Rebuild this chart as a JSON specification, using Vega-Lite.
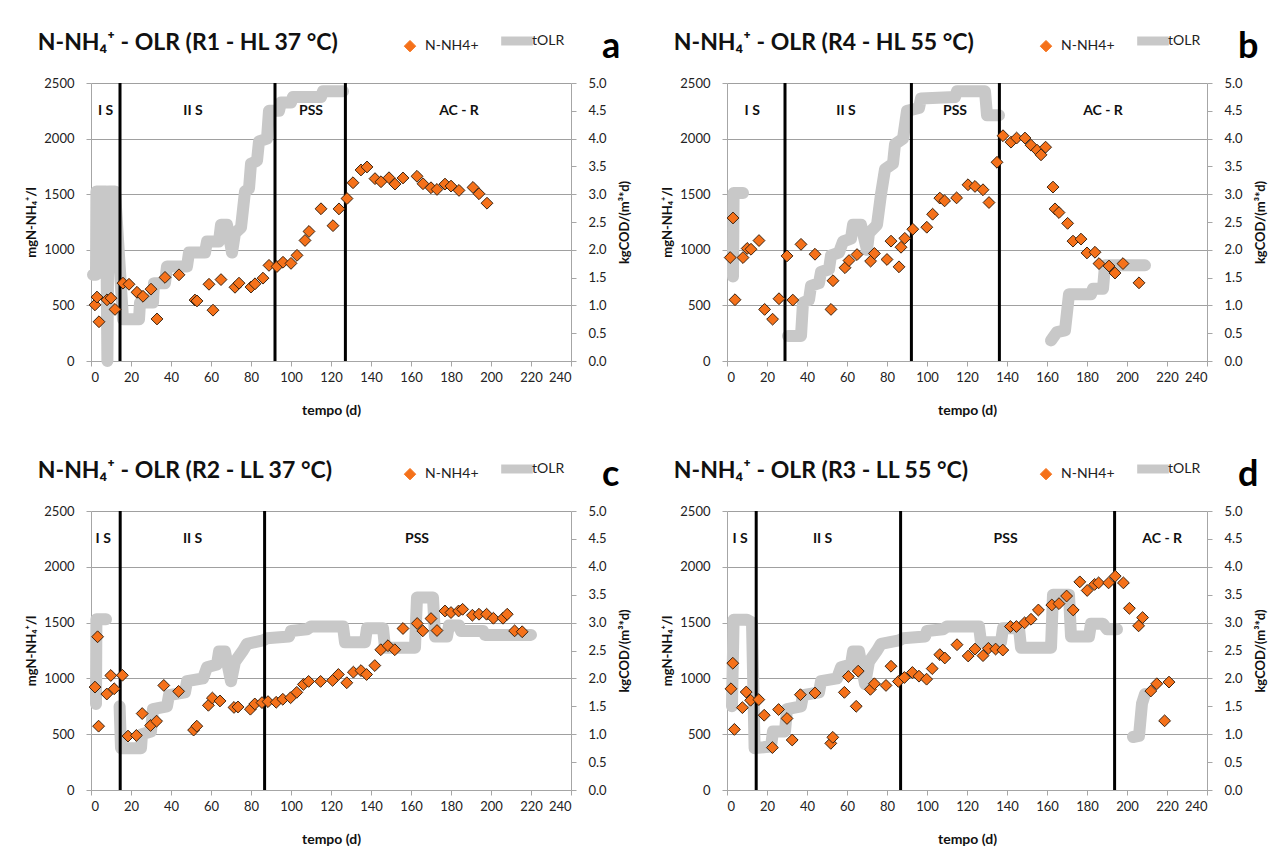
{
  "$schema": "https://vega.github.io/schema/vega-lite/v6.json",
  "background": "white",
  "padding": {"left": 25, "top": 32, "right": 5, "bottom": 5},
  "columns": 2,
  "spacing": {"row": 43, "column": 29},
  "resolve": {"scale": {"color": "independent"}, "legend": {"color": "independent"}},
  "datasets": {
    "pts": [
      {"p":"a","day":2,"nh4":505},{"p":"a","day":3,"nh4":575},{"p":"a","day":4,"nh4":353},{"p":"a","day":8,"nh4":550},{"p":"a","day":10,"nh4":565},{"p":"a","day":12,"nh4":464},{"p":"a","day":16,"nh4":700},{"p":"a","day":19,"nh4":690},{"p":"a","day":23,"nh4":618},{"p":"a","day":26,"nh4":582},{"p":"a","day":30,"nh4":646},{"p":"a","day":33,"nh4":378},{"p":"a","day":37,"nh4":752},{"p":"a","day":44,"nh4":775},{"p":"a","day":52,"nh4":548},{"p":"a","day":53,"nh4":540},{"p":"a","day":59,"nh4":690},{"p":"a","day":61,"nh4":457},{"p":"a","day":65,"nh4":732},{"p":"a","day":72,"nh4":663},{"p":"a","day":74,"nh4":700},{"p":"a","day":80,"nh4":665},{"p":"a","day":82,"nh4":694},{"p":"a","day":86,"nh4":745},{"p":"a","day":89,"nh4":860},{"p":"a","day":93,"nh4":850},{"p":"a","day":96,"nh4":888},{"p":"a","day":100,"nh4":878},{"p":"a","day":103,"nh4":950},{"p":"a","day":107,"nh4":1084},{"p":"a","day":109,"nh4":1165},{"p":"a","day":115,"nh4":1369},{"p":"a","day":121,"nh4":1217},{"p":"a","day":124,"nh4":1368},{"p":"a","day":128,"nh4":1461},{"p":"a","day":131,"nh4":1603},{"p":"a","day":135,"nh4":1718},{"p":"a","day":138,"nh4":1745},{"p":"a","day":142,"nh4":1640},{"p":"a","day":145,"nh4":1612},{"p":"a","day":149,"nh4":1648},{"p":"a","day":152,"nh4":1591},{"p":"a","day":156,"nh4":1646},{"p":"a","day":163,"nh4":1661},{"p":"a","day":166,"nh4":1594},{"p":"a","day":170,"nh4":1558},{"p":"a","day":173,"nh4":1543},{"p":"a","day":177,"nh4":1591},{"p":"a","day":180,"nh4":1573},{"p":"a","day":184,"nh4":1534},{"p":"a","day":191,"nh4":1561},{"p":"a","day":194,"nh4":1504},{"p":"a","day":198,"nh4":1419},
      {"p":"b","day":1.6,"nh4":930},{"p":"b","day":3,"nh4":1286},{"p":"b","day":4,"nh4":551},{"p":"b","day":8,"nh4":930},{"p":"b","day":10.1,"nh4":1012},{"p":"b","day":12,"nh4":1005},{"p":"b","day":16,"nh4":1083},{"p":"b","day":18.8,"nh4":464},{"p":"b","day":22.8,"nh4":376},{"p":"b","day":26,"nh4":560},{"p":"b","day":30,"nh4":945},{"p":"b","day":32.9,"nh4":548},{"p":"b","day":37,"nh4":1049},{"p":"b","day":44,"nh4":960},{"p":"b","day":52,"nh4":464},{"p":"b","day":53,"nh4":722},{"p":"b","day":59,"nh4":839},{"p":"b","day":61,"nh4":903},{"p":"b","day":65,"nh4":957},{"p":"b","day":71.8,"nh4":898},{"p":"b","day":73.7,"nh4":967},{"p":"b","day":80,"nh4":913},{"p":"b","day":82,"nh4":1078},{"p":"b","day":86,"nh4":847},{"p":"b","day":87,"nh4":1023},{"p":"b","day":88.9,"nh4":1103},{"p":"b","day":92.9,"nh4":1185},{"p":"b","day":99.9,"nh4":1203},{"p":"b","day":102.8,"nh4":1320},{"p":"b","day":106.4,"nh4":1465},{"p":"b","day":108.8,"nh4":1440},{"p":"b","day":114.8,"nh4":1467},{"p":"b","day":120.5,"nh4":1585},{"p":"b","day":124,"nh4":1570},{"p":"b","day":128,"nh4":1540},{"p":"b","day":131,"nh4":1425},{"p":"b","day":135,"nh4":1787},{"p":"b","day":138,"nh4":2026},{"p":"b","day":142,"nh4":1968},{"p":"b","day":144.8,"nh4":2005},{"p":"b","day":149,"nh4":2005},{"p":"b","day":152,"nh4":1941},{"p":"b","day":155,"nh4":1896},{"p":"b","day":157,"nh4":1854},{"p":"b","day":159.3,"nh4":1923},{"p":"b","day":163,"nh4":1564},{"p":"b","day":164,"nh4":1368},{"p":"b","day":166,"nh4":1335},{"p":"b","day":170.3,"nh4":1238},{"p":"b","day":173,"nh4":1078},{"p":"b","day":177,"nh4":1096},{"p":"b","day":180,"nh4":972},{"p":"b","day":184,"nh4":978},{"p":"b","day":186,"nh4":876},{"p":"b","day":191,"nh4":854},{"p":"b","day":194,"nh4":791},{"p":"b","day":198,"nh4":876},{"p":"b","day":206,"nh4":703},
      {"p":"c","day":2,"nh4":922},{"p":"c","day":3.3,"nh4":1373},{"p":"c","day":3.8,"nh4":572},{"p":"c","day":7.9,"nh4":860},{"p":"c","day":9.9,"nh4":1026},{"p":"c","day":11.6,"nh4":907},{"p":"c","day":15.7,"nh4":1028},{"p":"c","day":18.5,"nh4":483},{"p":"c","day":22.7,"nh4":489},{"p":"c","day":25.6,"nh4":685},{"p":"c","day":29.8,"nh4":578},{"p":"c","day":32.8,"nh4":617},{"p":"c","day":36.4,"nh4":937},{"p":"c","day":43.8,"nh4":884},{"p":"c","day":51.3,"nh4":537},{"p":"c","day":52.9,"nh4":572},{"p":"c","day":58.7,"nh4":759},{"p":"c","day":60.7,"nh4":824},{"p":"c","day":64.5,"nh4":798},{"p":"c","day":71.5,"nh4":740},{"p":"c","day":73.5,"nh4":744},{"p":"c","day":79.7,"nh4":724},{"p":"c","day":81.9,"nh4":771},{"p":"c","day":85.5,"nh4":783},{"p":"c","day":88.5,"nh4":792},{"p":"c","day":92.6,"nh4":786},{"p":"c","day":95.9,"nh4":813},{"p":"c","day":99.8,"nh4":827},{"p":"c","day":102.9,"nh4":875},{"p":"c","day":106.2,"nh4":946},{"p":"c","day":108.8,"nh4":973},{"p":"c","day":114.8,"nh4":973},{"p":"c","day":120.8,"nh4":982},{"p":"c","day":123.7,"nh4":1035},{"p":"c","day":127.9,"nh4":961},{"p":"c","day":131.2,"nh4":1056},{"p":"c","day":135,"nh4":1070},{"p":"c","day":137.8,"nh4":1035},{"p":"c","day":141.9,"nh4":1115},{"p":"c","day":144.9,"nh4":1257},{"p":"c","day":148.5,"nh4":1293},{"p":"c","day":151.9,"nh4":1257},{"p":"c","day":156,"nh4":1447},{"p":"c","day":163.1,"nh4":1492},{"p":"c","day":165.9,"nh4":1426},{"p":"c","day":170,"nh4":1536},{"p":"c","day":173,"nh4":1429},{"p":"c","day":177,"nh4":1604},{"p":"c","day":180,"nh4":1590},{"p":"c","day":183.8,"nh4":1604},{"p":"c","day":185.8,"nh4":1619},{"p":"c","day":190.7,"nh4":1566},{"p":"c","day":194,"nh4":1575},{"p":"c","day":197.8,"nh4":1575},{"p":"c","day":201.2,"nh4":1539},{"p":"c","day":206,"nh4":1539},{"p":"c","day":208.1,"nh4":1575},{"p":"c","day":211.8,"nh4":1426},{"p":"c","day":215.6,"nh4":1418},
      {"p":"d","day":2,"nh4":907},{"p":"d","day":2.9,"nh4":1136},{"p":"d","day":3.7,"nh4":543},{"p":"d","day":7.7,"nh4":738},{"p":"d","day":9.6,"nh4":878},{"p":"d","day":11.8,"nh4":804},{"p":"d","day":15.9,"nh4":810},{"p":"d","day":18.6,"nh4":670},{"p":"d","day":22.7,"nh4":380},{"p":"d","day":25.8,"nh4":721},{"p":"d","day":30,"nh4":641},{"p":"d","day":32.6,"nh4":448},{"p":"d","day":36.7,"nh4":854},{"p":"d","day":44,"nh4":869},{"p":"d","day":51.9,"nh4":418},{"p":"d","day":52.9,"nh4":472},{"p":"d","day":58.7,"nh4":875},{"p":"d","day":60.7,"nh4":1017},{"p":"d","day":64.6,"nh4":750},{"p":"d","day":65.6,"nh4":1065},{"p":"d","day":71.7,"nh4":902},{"p":"d","day":73.7,"nh4":952},{"p":"d","day":79.5,"nh4":937},{"p":"d","day":82,"nh4":1109},{"p":"d","day":85.7,"nh4":973},{"p":"d","day":88.7,"nh4":1008},{"p":"d","day":92.7,"nh4":1053},{"p":"d","day":96,"nh4":1020},{"p":"d","day":99.8,"nh4":993},{"p":"d","day":102.6,"nh4":1088},{"p":"d","day":106.4,"nh4":1213},{"p":"d","day":108.9,"nh4":1183},{"p":"d","day":115,"nh4":1302},{"p":"d","day":120.6,"nh4":1201},{"p":"d","day":124,"nh4":1263},{"p":"d","day":128,"nh4":1204},{"p":"d","day":130.7,"nh4":1269},{"p":"d","day":134.3,"nh4":1263},{"p":"d","day":137.9,"nh4":1254},{"p":"d","day":141.7,"nh4":1465},{"p":"d","day":144.7,"nh4":1465},{"p":"d","day":148.8,"nh4":1498},{"p":"d","day":152,"nh4":1530},{"p":"d","day":155.7,"nh4":1613},{"p":"d","day":162.4,"nh4":1658},{"p":"d","day":166,"nh4":1670},{"p":"d","day":169.8,"nh4":1738},{"p":"d","day":173.1,"nh4":1613},{"p":"d","day":176.4,"nh4":1865},{"p":"d","day":180.1,"nh4":1788},{"p":"d","day":183.8,"nh4":1842},{"p":"d","day":185.8,"nh4":1856},{"p":"d","day":190.8,"nh4":1856},{"p":"d","day":194.1,"nh4":1916},{"p":"d","day":198.2,"nh4":1856},{"p":"d","day":201.2,"nh4":1628},{"p":"d","day":205.8,"nh4":1471},{"p":"d","day":207.8,"nh4":1545},{"p":"d","day":211.9,"nh4":887},{"p":"d","day":214.9,"nh4":952},{"p":"d","day":218.8,"nh4":620},{"p":"d","day":221,"nh4":967}
    ],
    "olr": [
      {"p":"a","seg":1,"i":0,"day":1,"olr":1.55},{"p":"a","seg":1,"i":1,"day":2.5,"olr":1.55},{"p":"a","seg":1,"i":2,"day":2.7,"olr":3.05},{"p":"a","seg":1,"i":3,"day":7.5,"olr":3.05},{"p":"a","seg":1,"i":4,"day":8.2,"olr":0},{"p":"a","seg":1,"i":5,"day":8.8,"olr":3.05},{"p":"a","seg":1,"i":6,"day":12,"olr":3.05},{"p":"a","seg":1,"i":7,"day":16,"olr":0.75},{"p":"a","seg":1,"i":8,"day":24,"olr":0.75},{"p":"a","seg":1,"i":9,"day":24.5,"olr":1.05},{"p":"a","seg":1,"i":10,"day":31,"olr":1.05},{"p":"a","seg":1,"i":11,"day":31.5,"olr":1.4},{"p":"a","seg":1,"i":12,"day":37,"olr":1.4},{"p":"a","seg":1,"i":13,"day":38,"olr":1.7},{"p":"a","seg":1,"i":14,"day":48,"olr":1.7},{"p":"a","seg":1,"i":15,"day":49,"olr":1.95},{"p":"a","seg":1,"i":16,"day":57,"olr":1.95},{"p":"a","seg":1,"i":17,"day":58,"olr":2.15},{"p":"a","seg":1,"i":18,"day":64,"olr":2.15},{"p":"a","seg":1,"i":19,"day":65,"olr":2.45},{"p":"a","seg":1,"i":20,"day":68,"olr":2.45},{"p":"a","seg":1,"i":21,"day":70.5,"olr":1.95},{"p":"a","seg":1,"i":22,"day":72,"olr":2.3},{"p":"a","seg":1,"i":23,"day":75,"olr":2.4},{"p":"a","seg":1,"i":24,"day":77,"olr":3.05},{"p":"a","seg":1,"i":25,"day":79,"olr":3.1},{"p":"a","seg":1,"i":26,"day":80,"olr":3.55},{"p":"a","seg":1,"i":27,"day":83,"olr":3.6},{"p":"a","seg":1,"i":28,"day":84,"olr":3.95},{"p":"a","seg":1,"i":29,"day":88,"olr":4.0},{"p":"a","seg":1,"i":30,"day":89,"olr":4.5},{"p":"a","seg":1,"i":31,"day":94,"olr":4.5},{"p":"a","seg":1,"i":32,"day":95,"olr":4.65},{"p":"a","seg":1,"i":33,"day":100,"olr":4.65},{"p":"a","seg":1,"i":34,"day":101,"olr":4.75},{"p":"a","seg":1,"i":35,"day":115,"olr":4.75},{"p":"a","seg":1,"i":36,"day":116,"olr":4.85},{"p":"a","seg":1,"i":37,"day":126,"olr":4.85},
      {"p":"b","seg":1,"i":0,"day":3,"olr":1.52},{"p":"b","seg":1,"i":1,"day":3.3,"olr":3.02},{"p":"b","seg":1,"i":2,"day":8,"olr":3.02},
      {"p":"b","seg":2,"i":0,"day":30.5,"olr":0.45},{"p":"b","seg":2,"i":1,"day":37,"olr":0.45},{"p":"b","seg":2,"i":2,"day":38,"olr":1.05},{"p":"b","seg":2,"i":3,"day":41,"olr":1.1},{"p":"b","seg":2,"i":4,"day":42,"olr":1.35},{"p":"b","seg":2,"i":5,"day":46,"olr":1.4},{"p":"b","seg":2,"i":6,"day":47,"olr":1.6},{"p":"b","seg":2,"i":7,"day":51,"olr":1.65},{"p":"b","seg":2,"i":8,"day":52,"olr":1.9},{"p":"b","seg":2,"i":9,"day":56,"olr":1.95},{"p":"b","seg":2,"i":10,"day":58,"olr":2.15},{"p":"b","seg":2,"i":11,"day":62,"olr":2.2},{"p":"b","seg":2,"i":12,"day":63,"olr":2.45},{"p":"b","seg":2,"i":13,"day":67,"olr":2.45},{"p":"b","seg":2,"i":14,"day":70,"olr":2.0},{"p":"b","seg":2,"i":15,"day":71,"olr":2.3},{"p":"b","seg":2,"i":16,"day":75,"olr":2.45},{"p":"b","seg":2,"i":17,"day":77,"olr":3.0},{"p":"b","seg":2,"i":18,"day":79,"olr":3.45},{"p":"b","seg":2,"i":19,"day":83,"olr":3.55},{"p":"b","seg":2,"i":20,"day":84,"olr":3.9},{"p":"b","seg":2,"i":21,"day":88,"olr":4.0},{"p":"b","seg":2,"i":22,"day":90,"olr":4.5},{"p":"b","seg":2,"i":23,"day":96,"olr":4.55},{"p":"b","seg":2,"i":24,"day":97,"olr":4.72},{"p":"b","seg":2,"i":25,"day":114,"olr":4.75},{"p":"b","seg":2,"i":26,"day":115,"olr":4.85},{"p":"b","seg":2,"i":27,"day":129,"olr":4.85},{"p":"b","seg":2,"i":28,"day":130,"olr":4.42},{"p":"b","seg":2,"i":29,"day":136,"olr":4.42},
      {"p":"b","seg":3,"i":0,"day":162,"olr":0.37},{"p":"b","seg":3,"i":1,"day":165,"olr":0.52},{"p":"b","seg":3,"i":2,"day":169,"olr":0.55},{"p":"b","seg":3,"i":3,"day":171,"olr":1.2},{"p":"b","seg":3,"i":4,"day":182,"olr":1.2},{"p":"b","seg":3,"i":5,"day":183,"olr":1.3},{"p":"b","seg":3,"i":6,"day":188,"olr":1.3},{"p":"b","seg":3,"i":7,"day":189,"olr":1.72},{"p":"b","seg":3,"i":8,"day":209,"olr":1.72},
      {"p":"c","seg":1,"i":0,"day":2.5,"olr":1.54},{"p":"c","seg":1,"i":1,"day":2.7,"olr":3.06},{"p":"c","seg":1,"i":2,"day":7.5,"olr":3.06},
      {"p":"c","seg":2,"i":0,"day":14.3,"olr":1.5},{"p":"c","seg":2,"i":1,"day":15,"olr":0.75},{"p":"c","seg":2,"i":2,"day":25,"olr":0.75},{"p":"c","seg":2,"i":3,"day":25.5,"olr":1.0},{"p":"c","seg":2,"i":4,"day":30,"olr":1.05},{"p":"c","seg":2,"i":5,"day":31,"olr":1.45},{"p":"c","seg":2,"i":6,"day":38,"olr":1.5},{"p":"c","seg":2,"i":7,"day":39,"olr":1.7},{"p":"c","seg":2,"i":8,"day":47,"olr":1.75},{"p":"c","seg":2,"i":9,"day":48,"olr":1.95},{"p":"c","seg":2,"i":10,"day":56,"olr":2.0},{"p":"c","seg":2,"i":11,"day":58,"olr":2.2},{"p":"c","seg":2,"i":12,"day":63,"olr":2.25},{"p":"c","seg":2,"i":13,"day":64,"olr":2.48},{"p":"c","seg":2,"i":14,"day":67,"olr":2.48},{"p":"c","seg":2,"i":15,"day":70,"olr":1.95},{"p":"c","seg":2,"i":16,"day":72,"olr":2.3},{"p":"c","seg":2,"i":17,"day":76,"olr":2.5},{"p":"c","seg":2,"i":18,"day":78,"olr":2.62},{"p":"c","seg":2,"i":19,"day":86,"olr":2.68},{"p":"c","seg":2,"i":20,"day":88,"olr":2.72},{"p":"c","seg":2,"i":21,"day":99,"olr":2.75},{"p":"c","seg":2,"i":22,"day":100,"olr":2.85},{"p":"c","seg":2,"i":23,"day":108,"olr":2.88},{"p":"c","seg":2,"i":24,"day":110,"olr":2.93},{"p":"c","seg":2,"i":25,"day":126,"olr":2.93},{"p":"c","seg":2,"i":26,"day":127,"olr":2.65},{"p":"c","seg":2,"i":27,"day":137,"olr":2.65},{"p":"c","seg":2,"i":28,"day":138,"olr":2.9},{"p":"c","seg":2,"i":29,"day":146,"olr":2.9},{"p":"c","seg":2,"i":30,"day":147,"olr":2.55},{"p":"c","seg":2,"i":31,"day":162,"olr":2.55},{"p":"c","seg":2,"i":32,"day":163,"olr":3.45},{"p":"c","seg":2,"i":33,"day":171,"olr":3.45},{"p":"c","seg":2,"i":34,"day":172,"olr":2.75},{"p":"c","seg":2,"i":35,"day":178,"olr":2.75},{"p":"c","seg":2,"i":36,"day":179,"olr":2.95},{"p":"c","seg":2,"i":37,"day":184,"olr":2.95},{"p":"c","seg":2,"i":38,"day":185,"olr":2.85},{"p":"c","seg":2,"i":39,"day":196,"olr":2.85},{"p":"c","seg":2,"i":40,"day":197,"olr":2.78},{"p":"c","seg":2,"i":41,"day":220,"olr":2.78},
      {"p":"d","seg":1,"i":0,"day":2.5,"olr":1.5},{"p":"d","seg":1,"i":1,"day":3.3,"olr":3.05},{"p":"d","seg":1,"i":2,"day":10,"olr":3.05},{"p":"d","seg":1,"i":3,"day":12.5,"olr":3.0},{"p":"d","seg":1,"i":4,"day":13.8,"olr":0.75},{"p":"d","seg":1,"i":5,"day":22,"olr":0.78},{"p":"d","seg":1,"i":6,"day":23,"olr":1.05},{"p":"d","seg":1,"i":7,"day":29,"olr":1.05},{"p":"d","seg":1,"i":8,"day":30,"olr":1.45},{"p":"d","seg":1,"i":9,"day":37,"olr":1.5},{"p":"d","seg":1,"i":10,"day":38,"olr":1.7},{"p":"d","seg":1,"i":11,"day":46,"olr":1.75},{"p":"d","seg":1,"i":12,"day":47,"olr":1.95},{"p":"d","seg":1,"i":13,"day":55,"olr":2.0},{"p":"d","seg":1,"i":14,"day":57,"olr":2.2},{"p":"d","seg":1,"i":15,"day":62,"olr":2.25},{"p":"d","seg":1,"i":16,"day":63,"olr":2.48},{"p":"d","seg":1,"i":17,"day":66,"olr":2.48},{"p":"d","seg":1,"i":18,"day":69,"olr":1.9},{"p":"d","seg":1,"i":19,"day":71,"olr":2.3},{"p":"d","seg":1,"i":20,"day":75,"olr":2.5},{"p":"d","seg":1,"i":21,"day":77,"olr":2.62},{"p":"d","seg":1,"i":22,"day":86,"olr":2.68},{"p":"d","seg":1,"i":23,"day":88,"olr":2.72},{"p":"d","seg":1,"i":24,"day":99,"olr":2.75},{"p":"d","seg":1,"i":25,"day":100,"olr":2.85},{"p":"d","seg":1,"i":26,"day":108,"olr":2.88},{"p":"d","seg":1,"i":27,"day":110,"olr":2.93},{"p":"d","seg":1,"i":28,"day":126,"olr":2.93},{"p":"d","seg":1,"i":29,"day":127,"olr":2.65},{"p":"d","seg":1,"i":30,"day":137,"olr":2.65},{"p":"d","seg":1,"i":31,"day":138,"olr":2.9},{"p":"d","seg":1,"i":32,"day":146,"olr":2.9},{"p":"d","seg":1,"i":33,"day":147,"olr":2.55},{"p":"d","seg":1,"i":34,"day":162,"olr":2.55},{"p":"d","seg":1,"i":35,"day":163,"olr":3.5},{"p":"d","seg":1,"i":36,"day":171,"olr":3.5},{"p":"d","seg":1,"i":37,"day":172,"olr":2.75},{"p":"d","seg":1,"i":38,"day":181,"olr":2.75},{"p":"d","seg":1,"i":39,"day":182,"olr":2.98},{"p":"d","seg":1,"i":40,"day":188,"olr":2.98},{"p":"d","seg":1,"i":41,"day":190,"olr":2.88},{"p":"d","seg":1,"i":42,"day":195,"olr":2.88},
      {"p":"d","seg":2,"i":0,"day":203,"olr":0.95},{"p":"d","seg":2,"i":1,"day":206,"olr":0.97},{"p":"d","seg":2,"i":2,"day":207.5,"olr":1.55},{"p":"d","seg":2,"i":3,"day":209,"olr":1.72}
    ],
    "div": [
      {"p":"a","day":14.5},{"p":"a","day":92},{"p":"a","day":127.2},
      {"p":"b","day":29},{"p":"b","day":92.2},{"p":"b","day":136.2},
      {"p":"c","day":14.6},{"p":"c","day":86.8},
      {"p":"d","day":14.6},{"p":"d","day":86.8},{"p":"d","day":193.8}
    ],
    "lab": [
      {"p":"a","day":7.3,"phase":"I S"},{"p":"a","day":51,"phase":"II S"},{"p":"a","day":110,"phase":"PSS"},{"p":"a","day":184,"phase":"AC - R"},
      {"p":"b","day":12.6,"phase":"I S"},{"p":"b","day":59.5,"phase":"II S"},{"p":"b","day":114,"phase":"PSS"},{"p":"b","day":188,"phase":"AC - R"},
      {"p":"c","day":6.1,"phase":"I S"},{"p":"c","day":50.8,"phase":"II S"},{"p":"c","day":163,"phase":"PSS"},
      {"p":"d","day":6.5,"phase":"I S"},{"p":"d","day":47.8,"phase":"II S"},{"p":"d","day":139.3,"phase":"PSS"},{"p":"d","day":217.6,"phase":"AC - R"}
    ]
  },
  "concat": [
    {
      "width": 480, "height": 278,
      "title": {"text": "N-NH₄⁺ - OLR (R1 - HL 37 °C)"},
      "encoding": {"x": {"field": "day", "type": "quantitative", "scale": {"domain": [0, 240], "nice": false}, "axis": {"title": "tempo (d)", "values": [0,20,40,60,80,100,120,140,160,180,200,220,240], "grid": false, "labelOverlap": false}}},
      "layer": [
        {
          "data": {"name": "olr"},
          "transform": [{"filter": "datum.p == 'a'"}],
          "mark": {"type": "line", "strokeWidth": 12, "strokeCap": "round", "strokeJoin": "round"},
          "encoding": {
            "y": {"field": "olr", "type": "quantitative", "scale": {"domain": [0, 5], "nice": false}, "axis": {"orient": "right", "title": "kgCOD/(m³*d)", "titleAngle": 270, "titleBaseline": "top", "titlePadding": 12, "values": [0,0.5,1,1.5,2,2.5,3,3.5,4,4.5,5], "format": ".1f", "grid": false, "labelOverlap": false}},
            "detail": {"field": "seg"},
            "order": {"field": "i", "type": "quantitative"},
            "color": {"datum": "tOLR", "scale": {"domain": ["N-NH4+", "tOLR"], "range": ["#f5711a", "#c8c8c8"]},
              "legend": {"orient": "none", "legendX": 312, "legendY": -49, "direction": "horizontal", "title": "a", "titleOrient": "right",
                "encode": {"symbols": {"update": {"shape": {"signal": "datum.value === 'tOLR' ? 'stroke' : 'diamond'"}, "size": {"signal": "datum.value === 'tOLR' ? 1000 : 130"}, "strokeWidth": {"signal": "datum.value === 'tOLR' ? 9 : 1"}, "stroke": {"signal": "datum.value === 'tOLR' ? '#c8c8c8' : '#3a2310'"}, "fill": {"signal": "datum.value === 'tOLR' ? 'transparent' : '#f5711a'"}, "opacity": {"value": 1}}}}}}
          }
        },
        {
          "layer": [
            {"data": {"name": "div"}, "transform": [{"filter": "datum.p == 'a'"}], "mark": {"type": "rule", "strokeWidth": 3, "color": "#000"}, "encoding": {}},
            {"data": {"name": "lab"}, "transform": [{"filter": "datum.p == 'a'"}], "mark": {"type": "text", "fontWeight": "bold", "fontSize": 14, "font": "Lato", "color": "#111"}, "encoding": {"y": {"datum": 2250, "type": "quantitative"}, "text": {"field": "phase"}}},
            {"data": {"name": "pts"}, "transform": [{"filter": "datum.p == 'a'"}], "mark": {"type": "point", "shape": "diamond", "filled": true, "size": 140, "stroke": "#3a2310", "strokeWidth": 1, "opacity": 1},
              "encoding": {"y": {"field": "nh4", "type": "quantitative", "scale": {"domain": [0, 2500], "nice": false}, "axis": {"orient": "left", "title": "mgN-NH₄⁺/l", "values": [0,500,1000,1500,2000,2500], "format": "d", "grid": true}}, "color": {"datum": "N-NH4+"}}}
          ]
        }
      ],
      "resolve": {"scale": {"y": "independent"}}
    },
    {
      "width": 480, "height": 278,
      "title": {"text": "N-NH₄⁺ - OLR (R4 - HL 55 °C)"},
      "encoding": {"x": {"field": "day", "type": "quantitative", "scale": {"domain": [0, 240], "nice": false}, "axis": {"title": "tempo (d)", "values": [0,20,40,60,80,100,120,140,160,180,200,220,240], "grid": false, "labelOverlap": false}}},
      "layer": [
        {
          "data": {"name": "olr"},
          "transform": [{"filter": "datum.p == 'b'"}],
          "mark": {"type": "line", "strokeWidth": 12, "strokeCap": "round", "strokeJoin": "round"},
          "encoding": {
            "y": {"field": "olr", "type": "quantitative", "scale": {"domain": [0, 5], "nice": false}, "axis": {"orient": "right", "title": "kgCOD/(m³*d)", "titleAngle": 270, "titleBaseline": "top", "titlePadding": 12, "values": [0,0.5,1,1.5,2,2.5,3,3.5,4,4.5,5], "format": ".1f", "grid": false, "labelOverlap": false}},
            "detail": {"field": "seg"},
            "order": {"field": "i", "type": "quantitative"},
            "color": {"datum": "tOLR", "scale": {"domain": ["N-NH4+", "tOLR"], "range": ["#f5711a", "#c8c8c8"]},
              "legend": {"orient": "none", "legendX": 312, "legendY": -49, "direction": "horizontal", "title": "b", "titleOrient": "right",
                "encode": {"symbols": {"update": {"shape": {"signal": "datum.value === 'tOLR' ? 'stroke' : 'diamond'"}, "size": {"signal": "datum.value === 'tOLR' ? 1000 : 130"}, "strokeWidth": {"signal": "datum.value === 'tOLR' ? 9 : 1"}, "stroke": {"signal": "datum.value === 'tOLR' ? '#c8c8c8' : '#3a2310'"}, "fill": {"signal": "datum.value === 'tOLR' ? 'transparent' : '#f5711a'"}, "opacity": {"value": 1}}}}}}
          }
        },
        {
          "layer": [
            {"data": {"name": "div"}, "transform": [{"filter": "datum.p == 'b'"}], "mark": {"type": "rule", "strokeWidth": 3, "color": "#000"}, "encoding": {}},
            {"data": {"name": "lab"}, "transform": [{"filter": "datum.p == 'b'"}], "mark": {"type": "text", "fontWeight": "bold", "fontSize": 14, "font": "Lato", "color": "#111"}, "encoding": {"y": {"datum": 2250, "type": "quantitative"}, "text": {"field": "phase"}}},
            {"data": {"name": "pts"}, "transform": [{"filter": "datum.p == 'b'"}], "mark": {"type": "point", "shape": "diamond", "filled": true, "size": 140, "stroke": "#3a2310", "strokeWidth": 1, "opacity": 1},
              "encoding": {"y": {"field": "nh4", "type": "quantitative", "scale": {"domain": [0, 2500], "nice": false}, "axis": {"orient": "left", "title": "mgN-NH₄⁺/l", "values": [0,500,1000,1500,2000,2500], "format": "d", "grid": true}}, "color": {"datum": "N-NH4+"}}}
          ]
        }
      ],
      "resolve": {"scale": {"y": "independent"}}
    },
    {
      "width": 480, "height": 279,
      "title": {"text": "N-NH₄⁺ - OLR (R2 - LL 37 °C)"},
      "encoding": {"x": {"field": "day", "type": "quantitative", "scale": {"domain": [0, 240], "nice": false}, "axis": {"title": "tempo (d)", "values": [0,20,40,60,80,100,120,140,160,180,200,220,240], "grid": false, "labelOverlap": false}}},
      "layer": [
        {
          "data": {"name": "olr"},
          "transform": [{"filter": "datum.p == 'c'"}],
          "mark": {"type": "line", "strokeWidth": 12, "strokeCap": "round", "strokeJoin": "round"},
          "encoding": {
            "y": {"field": "olr", "type": "quantitative", "scale": {"domain": [0, 5], "nice": false}, "axis": {"orient": "right", "title": "kgCOD/(m³*d)", "titleAngle": 270, "titleBaseline": "top", "titlePadding": 12, "values": [0,0.5,1,1.5,2,2.5,3,3.5,4,4.5,5], "format": ".1f", "grid": false, "labelOverlap": false}},
            "detail": {"field": "seg"},
            "order": {"field": "i", "type": "quantitative"},
            "color": {"datum": "tOLR", "scale": {"domain": ["N-NH4+", "tOLR"], "range": ["#f5711a", "#c8c8c8"]},
              "legend": {"orient": "none", "legendX": 312, "legendY": -49, "direction": "horizontal", "title": "c", "titleOrient": "right",
                "encode": {"symbols": {"update": {"shape": {"signal": "datum.value === 'tOLR' ? 'stroke' : 'diamond'"}, "size": {"signal": "datum.value === 'tOLR' ? 1000 : 130"}, "strokeWidth": {"signal": "datum.value === 'tOLR' ? 9 : 1"}, "stroke": {"signal": "datum.value === 'tOLR' ? '#c8c8c8' : '#3a2310'"}, "fill": {"signal": "datum.value === 'tOLR' ? 'transparent' : '#f5711a'"}, "opacity": {"value": 1}}}}}}
          }
        },
        {
          "layer": [
            {"data": {"name": "div"}, "transform": [{"filter": "datum.p == 'c'"}], "mark": {"type": "rule", "strokeWidth": 3, "color": "#000"}, "encoding": {}},
            {"data": {"name": "lab"}, "transform": [{"filter": "datum.p == 'c'"}], "mark": {"type": "text", "fontWeight": "bold", "fontSize": 14, "font": "Lato", "color": "#111"}, "encoding": {"y": {"datum": 2250, "type": "quantitative"}, "text": {"field": "phase"}}},
            {"data": {"name": "pts"}, "transform": [{"filter": "datum.p == 'c'"}], "mark": {"type": "point", "shape": "diamond", "filled": true, "size": 140, "stroke": "#3a2310", "strokeWidth": 1, "opacity": 1},
              "encoding": {"y": {"field": "nh4", "type": "quantitative", "scale": {"domain": [0, 2500], "nice": false}, "axis": {"orient": "left", "title": "mgN-NH₄⁺/l", "values": [0,500,1000,1500,2000,2500], "format": "d", "grid": true}}, "color": {"datum": "N-NH4+"}}}
          ]
        }
      ],
      "resolve": {"scale": {"y": "independent"}}
    },
    {
      "width": 480, "height": 279,
      "title": {"text": "N-NH₄⁺ - OLR (R3 - LL 55 °C)"},
      "encoding": {"x": {"field": "day", "type": "quantitative", "scale": {"domain": [0, 240], "nice": false}, "axis": {"title": "tempo (d)", "values": [0,20,40,60,80,100,120,140,160,180,200,220,240], "grid": false, "labelOverlap": false}}},
      "layer": [
        {
          "data": {"name": "olr"},
          "transform": [{"filter": "datum.p == 'd'"}],
          "mark": {"type": "line", "strokeWidth": 12, "strokeCap": "round", "strokeJoin": "round"},
          "encoding": {
            "y": {"field": "olr", "type": "quantitative", "scale": {"domain": [0, 5], "nice": false}, "axis": {"orient": "right", "title": "kgCOD/(m³*d)", "titleAngle": 270, "titleBaseline": "top", "titlePadding": 12, "values": [0,0.5,1,1.5,2,2.5,3,3.5,4,4.5,5], "format": ".1f", "grid": false, "labelOverlap": false}},
            "detail": {"field": "seg"},
            "order": {"field": "i", "type": "quantitative"},
            "color": {"datum": "tOLR", "scale": {"domain": ["N-NH4+", "tOLR"], "range": ["#f5711a", "#c8c8c8"]},
              "legend": {"orient": "none", "legendX": 312, "legendY": -49, "direction": "horizontal", "title": "d", "titleOrient": "right",
                "encode": {"symbols": {"update": {"shape": {"signal": "datum.value === 'tOLR' ? 'stroke' : 'diamond'"}, "size": {"signal": "datum.value === 'tOLR' ? 1000 : 130"}, "strokeWidth": {"signal": "datum.value === 'tOLR' ? 9 : 1"}, "stroke": {"signal": "datum.value === 'tOLR' ? '#c8c8c8' : '#3a2310'"}, "fill": {"signal": "datum.value === 'tOLR' ? 'transparent' : '#f5711a'"}, "opacity": {"value": 1}}}}}}
          }
        },
        {
          "layer": [
            {"data": {"name": "div"}, "transform": [{"filter": "datum.p == 'd'"}], "mark": {"type": "rule", "strokeWidth": 3, "color": "#000"}, "encoding": {}},
            {"data": {"name": "lab"}, "transform": [{"filter": "datum.p == 'd'"}], "mark": {"type": "text", "fontWeight": "bold", "fontSize": 14, "font": "Lato", "color": "#111"}, "encoding": {"y": {"datum": 2250, "type": "quantitative"}, "text": {"field": "phase"}}},
            {"data": {"name": "pts"}, "transform": [{"filter": "datum.p == 'd'"}], "mark": {"type": "point", "shape": "diamond", "filled": true, "size": 140, "stroke": "#3a2310", "strokeWidth": 1, "opacity": 1},
              "encoding": {"y": {"field": "nh4", "type": "quantitative", "scale": {"domain": [0, 2500], "nice": false}, "axis": {"orient": "left", "title": "mgN-NH₄⁺/l", "values": [0,500,1000,1500,2000,2500], "format": "d", "grid": true}}, "color": {"datum": "N-NH4+"}}}
          ]
        }
      ],
      "resolve": {"scale": {"y": "independent"}}
    }
  ],
  "config": {
    "view": {"stroke": null},
    "font": "Lato",
    "title": {"font": "Lato", "fontSize": 23, "fontWeight": "bold", "anchor": "start", "color": "#111", "dx": 12, "offset": -21},
    "axis": {"labelFont": "Lato", "labelFontSize": 13, "labelColor": "#222", "titleFont": "Lato", "titleFontSize": 13, "titleFontWeight": "bold", "titleColor": "#111", "domainColor": "#a6a6a6", "tickColor": "#a6a6a6", "gridColor": "#a0a0a0", "tickSize": 5, "labelPadding": 12, "titlePadding": 5, "labelOverlap": false},
    "axisX": {"labelPadding": 5, "titlePadding": 19, "titleFontSize": 14, "labelOverlap": false},
    "legend": {"labelFont": "Lato", "labelFontSize": 14, "labelColor": "#222", "titleFont": "Lato", "titleFontSize": 36, "titleFontWeight": "bold", "titleColor": "#000", "titlePadding": 38, "columnPadding": 4, "labelOffset": 8, "symbolSize": 1000, "symbolType": "stroke", "symbolStrokeWidth": 9}
  }
}
